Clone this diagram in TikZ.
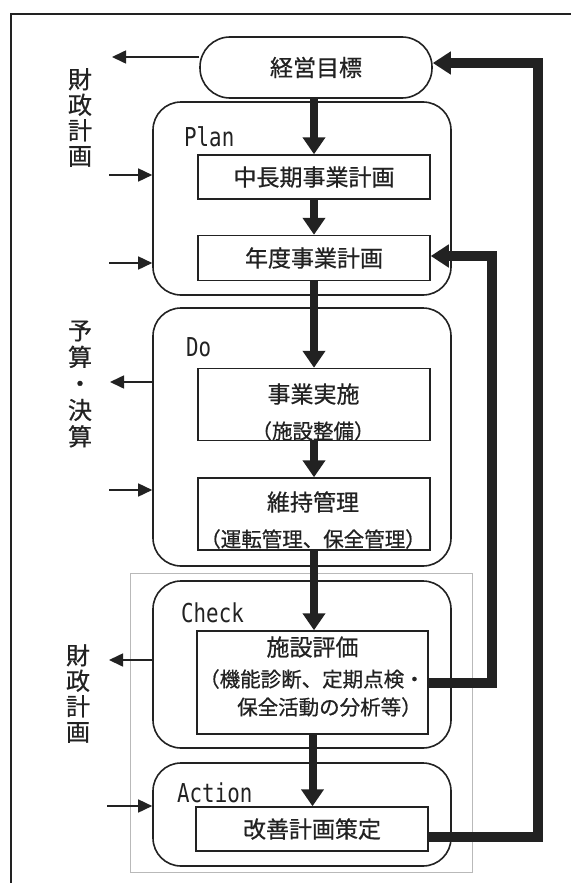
\documentclass[tikz,border=0pt]{standalone}
\usepackage{fontspec}
\setmainfont{Noto Sans CJK JP}[FakeBold=0.6]
\newfontfamily\latfont[FakeStretch=0.8]{DejaVu Sans Mono}
\usetikzlibrary{arrows.meta}
\definecolor{ink}{HTML}{222222}
\tikzset{
  phase/.style={draw=ink, line width=1.6pt, rounded corners=28pt, minimum width=298pt, inner sep=0pt},
  task/.style={draw=ink, line width=1.5pt, minimum width=232pt, inner sep=0pt, text=ink,
               font=\fontsize{23}{23}\selectfont},
  maintext/.style={font=\fontsize{23}{23}\selectfont, inner sep=0pt, text=ink},
  subtext/.style={font=\fontsize{20.5}{20.5}\selectfont, inner sep=0pt, text=ink},
  plabel/.style={font=\latfont\fontsize{26}{26}\selectfont, anchor=base west, inner sep=0pt, text=ink},
  side/.style={font=\fontsize{24}{25.5}\selectfont, align=center, inner sep=0pt, text=ink},
  flow/.style={line width=8pt, draw=ink, -{Triangle[length=17pt,width=22pt]}},
  back/.style={line width=10pt, draw=ink, -{Triangle[length=18pt,width=22pt]}},
  sidearrow/.style={line width=1.6pt, draw=ink, -{Triangle[length=14pt,width=13pt]}},
}
\begin{document}
\begin{tikzpicture}[x=1pt,y=-1pt]
\useasboundingbox (0,0) rectangle (571,883);
\fill[white] (0,0) rectangle (571,883);
% frame
\draw[ink, line width=2pt] (11,883) -- (11,14) -- (571,14);
% group rectangle around Check/Action
\node[draw=gray!55, line width=0.8pt, minimum width=342pt, minimum height=299pt, inner sep=0pt] (grp) at (301,722.5) {};
% goal
\node[draw=ink, line width=1.6pt, rounded corners=30pt, minimum width=232pt, minimum height=61pt,
      maintext] (goal) at (316,67.5) {経営目標};
% phases
\node[phase, minimum height=193pt] (plan) at (302,198.5) {};
\node[phase, minimum height=258pt] (do) at (302,437) {};
\node[phase, minimum height=167pt] (check) at (302,664.5) {};
\node[phase, minimum height=103pt] (action) at (302,814.5) {};
% phase labels
\node[plabel] (lplan) at (184,146) {Plan};
\node[plabel] (ldo) at (186,356) {Do};
\node[plabel] (lcheck) at (181,622) {Check};
\node[plabel] (laction) at (177,802) {Action};
% tasks
\node[task, minimum height=44pt] (b1) at (314,177) {中長期事業計画};
\node[task, minimum height=45pt] (b2) at (314,258) {年度事業計画};
\node[task, minimum height=72pt] (b3) at (314,404.5) {};
\node[task, minimum height=72pt] (b4) at (314,514) {};
\node[task, minimum width=231pt, minimum height=103pt] (b5) at (312.5,682.5) {};
\node[task, minimum height=44pt] (b6) at (312,829) {改善計画策定};
% task texts
\node[maintext] (t3a) at (313.5,394) {事業実施};
\node[subtext] (t3b) at (313,431) {（施設整備）};
\node[maintext] (t4a) at (313,502) {維持管理};
\node[subtext] (t4b) at (313,539) {（運転管理、保全管理）};
\node[maintext] (t5a) at (312.5,647) {施設評価};
\node[subtext, anchor=west] (t5b) at (199,679) {（機能診断、定期点検・};
\node[subtext, anchor=west] (t5c) at (237,707) {保全活動の分析等）};
% side labels
\node[side] (s1) at (80,117.5) {財\\政\\計\\画};
\node[side, font=\fontsize{24}{26.5}\selectfont] (s2) at (80,384) {予\\算\\・\\決\\算};
\node[side] (s3) at (78,693.5) {財\\政\\計\\画};
% main flow
\draw[flow] (goal.south -| b1.north) -- (b1.north);
\draw[flow] (b1.south) -- (b2.north);
\draw[flow] (b2.south) -- (b3.north);
\draw[flow] (b3.south) -- (b4.north);
\draw[flow] (b4.south) -- (b4.south |- b5.north);
\draw[flow] (b5.south) -- (b5.south |- b6.north);
% feedback
\draw[back] (b5.east) -- ++(63,0) |- ([yshift=2pt]b2.east);
\draw[back] ([yshift=-7.5pt]b6.east) -- ++(109,0) |- ([yshift=4.5pt]goal.east);
% side arrows
\coordinate (o1) at (112,57);
\coordinate (i1) at (109,175);
\coordinate (i2) at (109,263);
\coordinate (o2) at (110,382);
\coordinate (i3) at (109,490);
\coordinate (o3) at (109,660);
\coordinate (i4) at (107,806);
\draw[sidearrow] ([yshift=10.5pt]goal.west) -- (o1);
\draw[sidearrow] (i1) -- (i1 -| plan.west);
\draw[sidearrow] (i2) -- (i2 -| plan.west);
\draw[sidearrow] (o2 -| do.west) -- (o2);
\draw[sidearrow] (i3) -- (i3 -| do.west);
\draw[sidearrow] (o3 -| check.west) -- (o3);
\draw[sidearrow] (i4) -- (i4 -| action.west);
\end{tikzpicture}
\end{document}
